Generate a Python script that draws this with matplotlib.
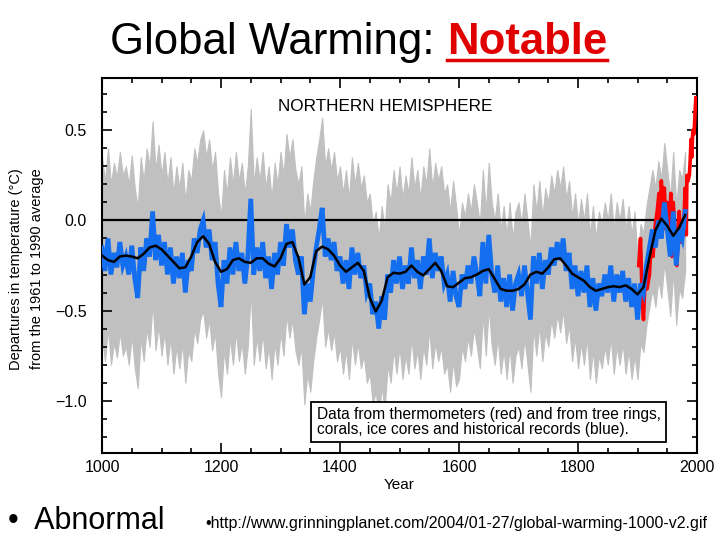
import numpy as np
import matplotlib
matplotlib.use("Agg")
import matplotlib.pyplot as plt
from matplotlib.lines import Line2D

plt.rcParams['font.family'] = ['Liberation Sans', 'DejaVu Sans']

# --- data ------------------------------------------------------------------
# proxy reconstruction (blue), every 5 years, 1000..1980
blue_years = np.arange(1000, 1981, 5)
blue_vals = [
    -0.15, -0.28, -0.10, -0.30, -0.18, -0.26, -0.12, -0.25, -0.20, -0.30,
    -0.14, -0.32, -0.43, -0.15, -0.28, -0.10, -0.20, 0.05, -0.22, -0.08,
    -0.25, -0.12, -0.30, -0.15, -0.35, -0.20, -0.32, -0.18, -0.40, -0.22,
    -0.28, -0.10, -0.18, -0.05, 0.00, -0.15, -0.05, -0.22, -0.12, -0.35,
    -0.48, -0.22, -0.35, -0.15, -0.30, -0.12, -0.28, -0.18, -0.35, -0.20,
    0.12, -0.30, -0.15, -0.28, -0.12, -0.32, -0.20, -0.38, -0.18, -0.30,
    -0.12, -0.25, -0.02, -0.15, -0.05, -0.22, -0.30, -0.20, -0.52, -0.35,
    -0.45, -0.28, -0.15, -0.05, 0.07, -0.20, -0.10, -0.22, -0.12, -0.28,
    -0.20, -0.35, -0.22, -0.38, -0.15, -0.30, -0.18, -0.32, -0.25, -0.40,
    -0.35, -0.52, -0.45, -0.60, -0.42, -0.55, -0.30, -0.40, -0.22, -0.35,
    -0.20, -0.38, -0.25, -0.35, -0.15, -0.32, -0.22, -0.38, -0.20, -0.30,
    -0.10, -0.32, -0.18, -0.28, -0.20, -0.35, -0.30, -0.45, -0.28, -0.42,
    -0.48, -0.30, -0.38, -0.25, -0.35, -0.20, -0.30, -0.42, -0.12, -0.35,
    -0.08, -0.30, -0.40, -0.25, -0.45, -0.32, -0.48, -0.30, -0.50, -0.35,
    -0.30, -0.42, -0.25, -0.40, -0.55, -0.20, -0.35, -0.18, -0.38, -0.22,
    -0.30, -0.15, -0.25, -0.12, -0.22, -0.10, -0.28, -0.18, -0.38, -0.25,
    -0.42, -0.28, -0.40, -0.25, -0.48, -0.32, -0.50, -0.35, -0.42, -0.30,
    -0.40, -0.25, -0.45, -0.30, -0.40, -0.28, -0.45, -0.32, -0.48, -0.35,
    -0.55, -0.35, -0.40, -0.25, -0.15, -0.05, -0.15, 0.00, -0.10, 0.10,
    -0.05, -0.20, 0.05, -0.25, -0.05, -0.10, 0.05,
]

# smoothed curve (black), every 10 years, 1000..1980
smooth_years = np.arange(1000, 1981, 10)
smooth_vals = [
    -0.195, -0.22, -0.23, -0.20, -0.195, -0.20, -0.21, -0.185, -0.15, -0.14,
    -0.16, -0.195, -0.23, -0.265, -0.26, -0.20, -0.12, -0.087, -0.13, -0.23,
    -0.285, -0.27, -0.22, -0.21, -0.23, -0.235, -0.21, -0.21, -0.24, -0.255,
    -0.21, -0.13, -0.12, -0.205, -0.355, -0.315, -0.17, -0.145, -0.16, -0.195,
    -0.25, -0.285, -0.26, -0.235, -0.28, -0.43, -0.505, -0.445, -0.315, -0.29,
    -0.295, -0.285, -0.25, -0.285, -0.305, -0.27, -0.235, -0.28, -0.365, -0.37,
    -0.345, -0.32, -0.315, -0.30, -0.28, -0.27, -0.325, -0.38, -0.39, -0.39,
    -0.38, -0.355, -0.30, -0.285, -0.295, -0.26, -0.215, -0.21, -0.25, -0.295,
    -0.315, -0.335, -0.37, -0.39, -0.38, -0.37, -0.365, -0.37, -0.36, -0.38,
    -0.41, -0.37, -0.205, -0.055, 0.01, -0.03, -0.085, -0.04, 0.03,
]

# thermometer record (red)
red_years = [1902, 1905, 1908, 1910, 1913, 1916, 1920, 1923, 1926, 1930,
             1933, 1936, 1938, 1940, 1943, 1945, 1948, 1950, 1953, 1956,
             1958, 1960, 1963, 1966, 1968, 1970, 1973, 1976, 1978, 1980,
             1982, 1983, 1985, 1987, 1988, 1990, 1991, 1993, 1995, 1997, 1998]
red_vals = [-0.25, -0.10, -0.45, -0.55, -0.30, -0.38, -0.30, -0.12, -0.20, -0.02,
            0.05, 0.15, 0.00, 0.22, 0.05, 0.18, -0.05, 0.10, -0.05, 0.15,
            -0.20, 0.10, -0.05, -0.25, -0.10, 0.05, -0.12, -0.08, 0.00, 0.18,
            -0.08, 0.25, 0.22, 0.25, 0.30, 0.45, 0.35, 0.50, 0.48, 0.62, 0.68]

# half-width of the grey uncertainty band, by period start
band_start = [1000, 1600, 1900]
band_half = [0.50, 0.40, 0.33]

# --- figure ------------------------------------------------------------------
fig = plt.figure(figsize=(7.2, 5.4), dpi=100)
ax = fig.add_axes([0.1417, 0.1611, 0.8264, 0.6944])

blue = np.array(blue_vals)
half = np.array(band_half)[np.searchsorted(band_start, blue_years, side='right') - 1]
ax.fill_between(blue_years, blue - half, blue + half, color='#c0c0c0', lw=0.8,
                edgecolor='#c0c0c0', zorder=1)
ax.axhline(0, color='black', lw=1.6, zorder=2)
ax.plot(red_years, red_vals, color='#ff0000', lw=2.6, zorder=3)
ax.plot(blue_years, blue, color='#146ef0', lw=3.4, solid_joinstyle='miter', zorder=4)
ax.plot(smooth_years, smooth_vals, color='black', lw=1.8, zorder=5)

ax.set_xlim(1000, 2000)
ax.set_ylim(-1.29, 0.79)
ax.set_xticks([1000, 1200, 1400, 1600, 1800, 2000])
ax.set_xticks(np.arange(1000, 2001, 50), minor=True)
ax.set_yticks([-1.0, -0.5, 0.0, 0.5])
ax.set_yticklabels(['\u22121.0', '\u22120.5', '0.0', '0.5'])
ax.set_yticks(np.arange(-1.2, 0.75, 0.1), minor=True)
ax.tick_params(which='both', direction='in', top=True, right=True,
               labelsize=11.5, colors='black', width=1.2)
ax.tick_params(which='major', length=7)
ax.tick_params(which='minor', length=3.5)
ax.tick_params(axis='y', which='major', pad=11)
ax.tick_params(axis='x', which='major', pad=5)
for s in ax.spines.values():
    s.set_linewidth(1.5)

ax.set_xlabel('Year', fontsize=11, labelpad=2)
fig.text(0.037, 0.502, 'Departures in temperature (\u00b0C)\nfrom the 1961 to 1990 average',
         rotation=90, ha='center', va='center', fontsize=10.5, linespacing=1.65)

ax.text(1476, 0.63, 'NORTHERN HEMISPHERE', ha='center', va='center', fontsize=12.3)
ax.text(1361, -1.118,
        'Data from thermometers (red) and from tree rings,\ncorals, ice cores and historical records (blue).',
        ha='left', va='center', fontsize=11.2, linespacing=1.0,
        bbox=dict(boxstyle='square,pad=0.35', fc='white', ec='black', lw=1.3), zorder=6)

# --- slide text --------------------------------------------------------------
t1 = fig.text(0.153, 0.9, 'Global Warming: ', fontsize=31.5, va='baseline', ha='left')
fig.canvas.draw()
r = fig.canvas.get_renderer()
bb = t1.get_window_extent(r).transformed(fig.transFigure.inverted())
t2 = fig.text(bb.x1, 0.9, 'Notable', fontsize=31.5, fontweight='bold', color='#e00000',
              va='baseline', ha='left')
fig.canvas.draw()
bb2 = t2.get_window_extent(r).transformed(fig.transFigure.inverted())
fig.add_artist(Line2D([bb2.x0, bb2.x1], [0.889, 0.889], color='#e00000', lw=2.5,
                      transform=fig.transFigure))

fig.text(0.011, 0.02, '\u2022  Abnormal', fontsize=22, va='baseline', ha='left')
fig.text(0.285, 0.022, '\u2022http://www.grinningplanet.com/2004/01-27/global-warming-1000-v2.gif',
         fontsize=11.5, va='baseline', ha='left')

fig.savefig('out.png', dpi=100)
